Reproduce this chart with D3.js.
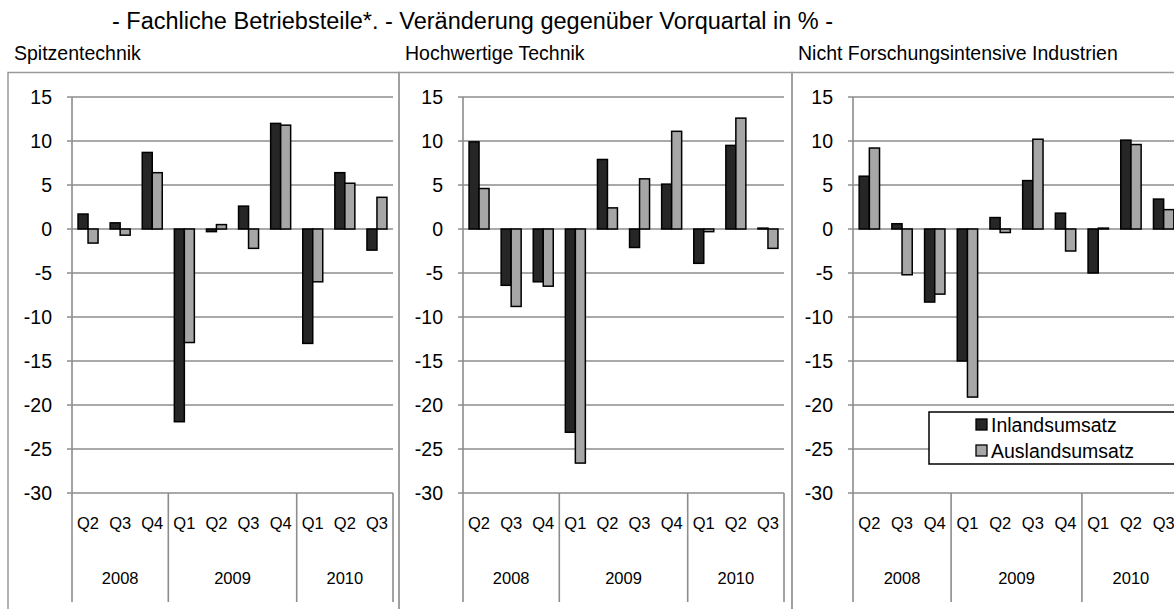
<!DOCTYPE html>
<html>
<head>
<meta charset="utf-8">
<script src="https://cdn.jsdelivr.net/npm/d3@7"></script>
<style>
  body { margin: 0; background: #fff; }
  svg { display: block; font-family: Arial, "Liberation Sans", sans-serif; }
</style>
</head>
<body>
<svg width="1174" height="609"></svg>
<script>
const years = ["2008", "2009", "2010"];
const quarters = ["Q2", "Q3", "Q4", "Q1", "Q2", "Q3", "Q4", "Q1", "Q2", "Q3"];
const quarterYears = ["2008", "2008", "2008", "2009", "2009", "2009", "2009", "2010", "2010", "2010"];
const yTicks = [15, 10, 5, 0, -5, -10, -15, -20, -25, -30];
const seriesNames = ["Inlandsumsatz", "Auslandsumsatz"];

const spitzeInland = [1.7, 0.7, 8.7, -21.9, -0.3, 2.6, 12.0, -13.0, 6.4, -2.4];
const spitzeAusland = [-1.6, -0.7, 6.4, -12.9, 0.5, -2.2, 11.8, -6.0, 5.2, 3.6];
const hochInland = [9.9, -6.4, -6.0, -23.1, 7.9, -2.1, 5.1, -3.9, 9.5, 0.1];
const hochAusland = [4.6, -8.8, -6.5, -26.6, 2.4, 5.7, 11.1, -0.3, 12.6, -2.2];
const nichtInland = [6.0, 0.6, -8.3, -15.0, 1.3, 5.5, 1.8, -5.0, 10.1, 3.4];
const nichtAusland = [9.2, -5.2, -7.4, -19.1, -0.4, 10.2, -2.5, 0.1, 9.6, 2.2];

const panelTitles = ["Spitzentechnik", "Hochwertige Technik", "Nicht Forschungsintensive Industrien"];

var svg = d3.select("svg");
var gridColor = "#8c8c8c";
var colors = ["#262626", "#a6a6a6"];

svg.append("text")
  .attr("x", 112)
  .attr("y", 29)
  .attr("font-size", 23.5)
  .attr("fill", "#000")
  .text("- Fachliche Betriebsteile*. - Veränderung gegenüber Vorquartal in % -");

var panels = [
  { frame: [8, 399], plot: [72, 393], inl: spitzeInland, ausl: spitzeAusland },
  { frame: [399, 792], plot: [463, 784], inl: hochInland, ausl: hochAusland },
  { frame: [792, 1190], plot: [853, 1180], inl: nichtInland, ausl: nichtAusland }
];

var y = d3.scaleLinear().domain([-30, 15]).range([493, 97]);
var idx = d3.range(quarters.length);

panels.forEach(function (p, i) {
  var g = svg.append("g");

  g.append("rect")
    .attr("x", p.frame[0])
    .attr("y", 72.5)
    .attr("width", p.frame[1] - p.frame[0])
    .attr("height", 600)
    .attr("fill", "none")
    .attr("stroke", "#9a9a9a")
    .attr("stroke-width", 1.5);

  g.append("text")
    .attr("x", p.frame[0] + 6)
    .attr("y", 60)
    .attr("font-size", 19.5)
    .text(panelTitles[i]);

  var x = d3.scaleBand()
    .domain(idx)
    .range(p.plot)
    .paddingInner(0.377)
    .paddingOuter(0.1885);

  var xSub = d3.scaleBand()
    .domain([0, 1])
    .range([0, x.bandwidth()]);

  // gridlines + y labels
  g.selectAll(".grid")
    .data(yTicks)
    .enter()
    .append("line")
    .attr("x1", p.plot[0] - 5)
    .attr("x2", p.plot[1])
    .attr("y1", (d) => y(d))
    .attr("y2", (d) => y(d))
    .attr("stroke", gridColor)
    .attr("stroke-width", 1.6);

  g.selectAll(".ylab")
    .data(yTicks)
    .enter()
    .append("text")
    .attr("x", p.plot[0] - 20)
    .attr("y", (d) => y(d))
    .attr("dy", "0.36em")
    .attr("text-anchor", "end")
    .attr("font-size", 19.5)
    .text((d) => d);

  // y axis line, continues down through category area
  g.append("line")
    .attr("x1", p.plot[0])
    .attr("x2", p.plot[0])
    .attr("y1", y(15))
    .attr("y2", 602)
    .attr("stroke", gridColor)
    .attr("stroke-width", 1.6);

  // year separators
  var step = x.step();
  var bounds = [];
  var start = 0;
  years.forEach(function (yr) {
    var n = quarterYears.filter((q) => q === yr).length;
    bounds.push({ year: yr, x0: p.plot[0] + start * step, x1: p.plot[0] + (start + n) * step });
    start += n;
  });

  g.selectAll(".sep")
    .data(bounds)
    .enter()
    .append("line")
    .attr("x1", (d) => d.x1)
    .attr("x2", (d) => d.x1)
    .attr("y1", y(-30))
    .attr("y2", 602)
    .attr("stroke", gridColor)
    .attr("stroke-width", 1.6);

  g.selectAll(".qlab")
    .data(idx)
    .enter()
    .append("text")
    .attr("x", (d) => p.plot[0] + (d + 0.5) * step)
    .attr("y", 529)
    .attr("text-anchor", "middle")
    .attr("font-size", 16.5)
    .text((d) => quarters[d]);

  g.selectAll(".ylab2")
    .data(bounds)
    .enter()
    .append("text")
    .attr("x", (d) => (d.x0 + d.x1) / 2)
    .attr("y", 584)
    .attr("text-anchor", "middle")
    .attr("font-size", 16.5)
    .text((d) => d.year);

  // bars
  var rows = [];
  idx.forEach(function (k) {
    rows.push({ k: k, s: 0, v: p.inl[k] });
    rows.push({ k: k, s: 1, v: p.ausl[k] });
  });

  g.selectAll(".bar")
    .data(rows)
    .enter()
    .append("rect")
    .attr("x", (d) => x(d.k) + xSub(d.s))
    .attr("y", (d) => Math.min(y(d.v), y(0)))
    .attr("width", xSub.bandwidth())
    .attr("height", (d) => Math.abs(y(d.v) - y(0)))
    .attr("fill", (d) => colors[d.s])
    .attr("stroke", "#000")
    .attr("stroke-width", 1.5);
});

// legend in third panel
var legend = svg.append("g").attr("transform", "translate(929, 412)");
legend.append("rect")
  .attr("x", 0)
  .attr("y", 0)
  .attr("width", 260)
  .attr("height", 52)
  .attr("fill", "#fff")
  .attr("stroke", "#000")
  .attr("stroke-width", 1.5);

var items = legend.selectAll(".item")
  .data(seriesNames)
  .enter()
  .append("g")
  .attr("transform", (d, i) => "translate(0," + (13 + i * 26) + ")");

items.append("rect")
  .attr("x", 47)
  .attr("y", -6)
  .attr("width", 11)
  .attr("height", 11)
  .attr("fill", (d, i) => colors[i])
  .attr("stroke", "#000")
  .attr("stroke-width", 1.3);

items.append("text")
  .attr("x", 62)
  .attr("y", 0)
  .attr("dy", "0.36em")
  .attr("font-size", 19.5)
  .text((d) => d);
</script>
</body>
</html>
